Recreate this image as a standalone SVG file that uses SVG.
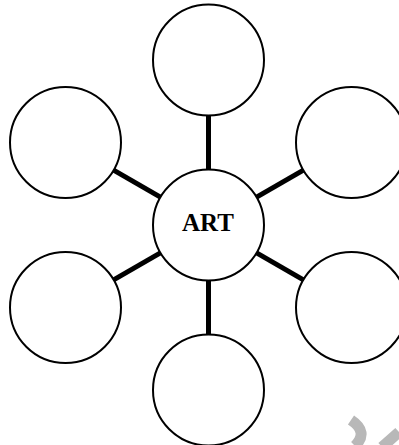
<svg xmlns="http://www.w3.org/2000/svg" width="399" height="445" viewBox="0 0 399 445">
<style>
.n{fill:#fff;stroke:#000;stroke-width:2}
.c line{stroke:#000;stroke-width:5}
.t{font-family:"Liberation Serif","Times New Roman",serif;font-weight:bold;font-size:25px;text-anchor:middle}
.wm{fill:none;stroke:#b8b8b8;stroke-width:11}
</style>
<rect width="399" height="445" fill="#fff"/>
<g id="connectors" class="c">
<line x1="208.5" y1="115.5" x2="208.5" y2="169.5"/>
<line x1="208.5" y1="280.5" x2="208.5" y2="334.5"/>
<line x1="113.6" y1="170.2" x2="160.4" y2="197.2"/>
<line x1="303.4" y1="170.2" x2="256.6" y2="197.2"/>
<line x1="113.6" y1="279.8" x2="160.4" y2="252.8"/>
<line x1="303.4" y1="279.8" x2="256.6" y2="252.8"/>
</g>
<g id="node-top"><circle class="n" cx="208.5" cy="60" r="55.5"/></g>
<g id="node-upper-left"><circle class="n" cx="65.5" cy="142.5" r="55.5"/></g>
<g id="node-upper-right"><circle class="n" cx="351.5" cy="142.5" r="55.5"/></g>
<g id="node-lower-left"><circle class="n" cx="65.5" cy="307.5" r="55.5"/></g>
<g id="node-lower-right"><circle class="n" cx="351.5" cy="307.5" r="55.5"/></g>
<g id="node-bottom"><circle class="n" cx="208.5" cy="390" r="55.5"/></g>
<g id="node-art"><circle class="n" cx="208.5" cy="225" r="55.5"/><text class="t" x="208" y="231">ART</text></g>
<g id="watermark">
<path class="wm" d="M351 420 Q369 432 355 446"/>
<path class="wm" d="M382 447 L399 432"/>
</g>
</svg>
